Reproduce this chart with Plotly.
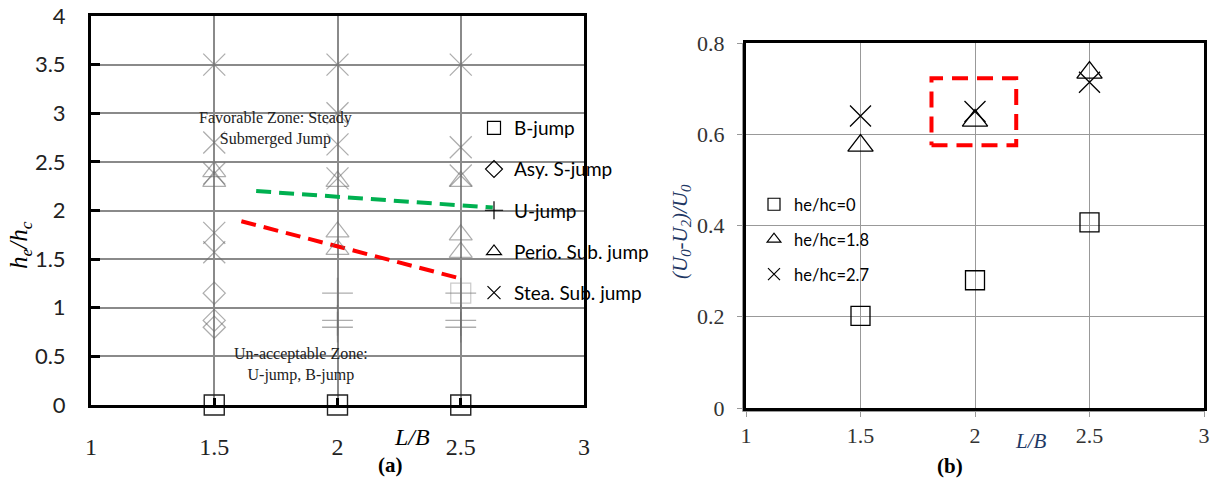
import plotly.graph_objects as go

W, H = 1220, 478

# ---------------- Panel (a) data ----------------
a_xticks = [1, 1.5, 2, 2.5, 3]
a_yticks = [0, 0.5, 1, 1.5, 2, 2.5, 3, 3.5, 4]

bjump_x = [1.5, 2, 2.5, 2.5]
bjump_y = [0, 0, 0, 1.15]

asy_x = [1.5, 1.5, 1.5]
asy_y = [1.15, 0.87, 0.8]

ujump_x = [2, 2, 2, 2.5, 2.5, 2.5]
ujump_y = [1.15, 0.87, 0.8, 1.15, 0.87, 0.8]

perio_x = [1.5, 1.5, 2, 2, 2, 2.5, 2.5, 2.5]
perio_y = [2.4, 2.3, 2.3, 1.78, 1.6, 2.3, 1.75, 1.57]

stea_x = [1.5, 1.5, 1.5, 1.5, 1.5, 2, 2, 2, 2, 2.5, 2.5, 2.5]
stea_y = [3.5, 2.7, 2.38, 1.77, 1.57, 3.5, 3.0, 2.68, 2.33, 3.5, 2.65, 2.36]

green_x = [1.67, 2.63]
green_y = [2.2, 2.03]
red_x = [1.61, 2.5]
red_y = [1.89, 1.3]

# ---------------- Panel (b) data ----------------
b_xticks = [1, 1.5, 2, 2.5, 3]
b_yticks = [0, 0.2, 0.4, 0.6, 0.8]
b_x = [1.5, 2, 2.5]
b_h0 = [0.202, 0.28, 0.407]
b_h18 = [0.575, 0.63, 0.735]
b_h27 = [0.64, 0.65, 0.714]
box_x = [1.81, 2.18]
box_y = [0.576, 0.723]

SERIF = "Liberation Serif"
SANS = "Lato"
GRAY = "rgba(105,105,105,0.55)"
NAVY = "#1F3864"

fig = go.Figure()

def pts(x, y, symbol, size, color, width, xa="x", ya="y"):
    fig.add_trace(go.Scatter(x=x, y=y, mode="markers", xaxis=xa, yaxis=ya,
                             marker=dict(symbol=symbol, size=size, color=color,
                                         line=dict(width=width, color=color)),
                             showlegend=False, cliponaxis=False, hoverinfo="x+y"))

# Panel (a) guide lines
fig.add_trace(go.Scatter(x=green_x, y=green_y, mode="lines", xaxis="x", yaxis="y",
                         line=dict(color="#00B050", width=4, dash="15px,8px"), showlegend=False))
fig.add_trace(go.Scatter(x=red_x, y=red_y, mode="lines", xaxis="x", yaxis="y",
                         line=dict(color="#FF0000", width=4, dash="15px,8px"), showlegend=False))

# Panel (a) markers
pts(stea_x, stea_y, "x-thin-open", 22, GRAY, 1.3)
pts(perio_x, perio_y, "triangle-up-open", 20, GRAY, 1.2)
pts(ujump_x, ujump_y, "cross-thin-open", 22, GRAY, 1.4)
pts(asy_x, asy_y, "diamond-open", 17, GRAY, 1.3)
pts(bjump_x[:3], bjump_y[:3], "square-open", 20, "#222", 1.4)
pts(bjump_x[3:], bjump_y[3:], "square-open", 20, "rgba(120,120,120,0.4)", 1.2)

# Panel (a) legend entries
leg_a = [("B-jump", "square-open"), ("Asy. S-jump", "diamond-open"),
         ("U-jump", "cross-thin-open"), ("Perio. Sub. jump", "triangle-up-open"),
         ("Stea. Sub. jump", "x-thin-open")]
for i, (nm, sym) in enumerate(leg_a):
    fig.add_trace(go.Scatter(x=[None], y=[None], mode="markers", name=nm, xaxis="x", yaxis="y",
                             legend="legend", legendgroup="a%d" % i,
                             marker=dict(symbol=sym, size=13, color="black",
                                         line=dict(width=1.2, color="black"))))

# Panel (b) highlight box
fig.add_trace(go.Scatter(x=[box_x[0], box_x[1], box_x[1], box_x[0], box_x[0]],
                         y=[box_y[0], box_y[0], box_y[1], box_y[1], box_y[0]],
                         mode="lines", xaxis="x2", yaxis="y2",
                         line=dict(color="#FF0000", width=4, dash="16px,9px"), showlegend=False))

# Panel (b) markers
b_series = [("he/hc=0", b_h0, "square-open", 19),
            ("he/hc=1.8", b_h18, "triangle-up-open", 22),
            ("he/hc=2.7", b_h27, "x-thin-open", 21)]
for i, (nm, ys, sym, sz) in enumerate(b_series):
    fig.add_trace(go.Scatter(x=b_x, y=ys, mode="markers", xaxis="x2", yaxis="y2",
                             marker=dict(symbol=sym, size=sz, color="black",
                                         line=dict(width=1.3, color="black")),
                             showlegend=False, cliponaxis=False))
    fig.add_trace(go.Scatter(x=[None], y=[None], mode="markers", name=nm, xaxis="x2", yaxis="y2",
                             legend="legend2", legendgroup="b%d" % i,
                             marker=dict(symbol=sym, size=12, color="black",
                                         line=dict(width=1.2, color="black"))))

def px(xp):
    return xp / W

def py(yp):
    return 1 - yp / H

def note(text, x, y, size, family=SERIF, color="black", angle=0, ref="paper"):
    d = dict(text=text, x=x, y=y, showarrow=False, textangle=angle,
             xanchor="center", yanchor="middle", align="center",
             font=dict(family=family, size=size, color=color))
    if ref == "paper":
        d.update(xref="paper", yref="paper")
    else:
        d.update(xref="x", yref="y")
    return d

# thin grey outer rule along the left and bottom of panel (b) (double border look)
frame_b = [
    dict(type="line", xref="paper", yref="paper", x0=px(742.5), x1=px(742.5), y0=py(411.5), y1=py(43),
         line=dict(color="#9a9a9a", width=1)),
    dict(type="line", xref="paper", yref="paper", x0=px(742.5), x1=px(1204), y0=py(411.5), y1=py(411.5),
         line=dict(color="#9a9a9a", width=1)),
]

fig.update_layout(
    width=W, height=H, margin=dict(l=0, r=0, t=0, b=0, autoexpand=False),
    paper_bgcolor="white", plot_bgcolor="white",
    showlegend=True,
    shapes=frame_b,
    xaxis=dict(domain=[px(91), px(584)], range=[1, 3], tickvals=a_xticks,
               ticktext=[str(v) for v in a_xticks], anchor="y", automargin=False,
               showgrid=True, gridcolor="#8a8a8a", gridwidth=1.5, zeroline=False,
               showline=True, linecolor="black", linewidth=3, mirror=True,
               ticks="inside", ticklen=7, tickwidth=3, tickcolor="black",
               ticklabelstandoff=18,
               tickfont=dict(family=SERIF, size=24, color="#222")),
    yaxis=dict(domain=[py(405), py(16)], range=[0, 4], tickvals=a_yticks,
               ticktext=["0", "0.5", "1", "1.5", "2", "2.5", "3", "3.5", "4"], anchor="x",
               automargin=False,
               showgrid=True, gridcolor="#8a8a8a", gridwidth=1.5, zeroline=False,
               showline=True, linecolor="black", linewidth=3, mirror=True,
               ticks="inside", ticklen=9, tickwidth=3, tickcolor="black",
               ticklabelstandoff=18,
               tickfont=dict(family=SANS, size=22, color="#222")),
    xaxis2=dict(domain=[px(746), px(1204)], range=[1, 3], tickvals=b_xticks,
                ticktext=[str(v) for v in b_xticks], anchor="y2", automargin=False,
                showgrid=True, gridcolor="#999999", gridwidth=1.3, zeroline=False,
                showline=True, linecolor="black", linewidth=3, mirror=True,
                ticks="outside", ticklen=6, tickwidth=1, tickcolor="#999",
                ticklabelstandoff=0,
                tickfont=dict(family=SERIF, size=22, color="#333")),
    yaxis2=dict(domain=[py(408), py(43)], range=[0, 0.8], tickvals=b_yticks,
                ticktext=["0", "0.2", "0.4", "0.6", "0.8"], anchor="x2", automargin=False,
                showgrid=True, gridcolor="#999999", gridwidth=1.3, zeroline=False,
                showline=True, linecolor="black", linewidth=3, mirror=True,
                ticks="outside", ticklen=6, tickwidth=1, tickcolor="#999",
                ticklabelstandoff=8,
                tickfont=dict(family=SERIF, size=22, color="#333")),
    legend=dict(x=px(474), y=py(109), xanchor="left", yanchor="top",
                bgcolor="rgba(0,0,0,0)", font=dict(family=SANS, size=19, color="black"),
                traceorder="grouped", tracegroupgap=13.5, itemwidth=30),
    legend2=dict(x=px(754), y=py(187), xanchor="left", yanchor="top",
                 bgcolor="rgba(0,0,0,0)", font=dict(family=SANS, size=16.5, color="black"),
                 traceorder="grouped", tracegroupgap=10.5, itemwidth=30),
    annotations=[
        note("Favorable Zone: Steady<br>Submerged Jump", 1.75, 2.84, 16, ref="data", color="#222"),
        note("Un-acceptable Zone:<br>U-jump, B-jump", 1.85, 0.42, 16, ref="data", color="#222"),
        note("<i>h<sub>e</sub>/h<sub>c</sub></i>", px(20), py(245), 25, angle=-90),
        note("<i>L/B</i>", px(412), py(437), 24),
        note("<b>(a)</b>", px(390), py(465), 21),
        note("<i>(U<sub>0</sub>-U<sub>2</sub>)/U<sub>0</sub></i>", px(681), py(232), 21,
             color=NAVY, angle=-90),
        note("<i>L/B</i>", px(1031), py(441), 21, color=NAVY),
        note("<b>(b)</b>", px(950), py(466), 21),
    ],
)

fig.write_html("out.html")
